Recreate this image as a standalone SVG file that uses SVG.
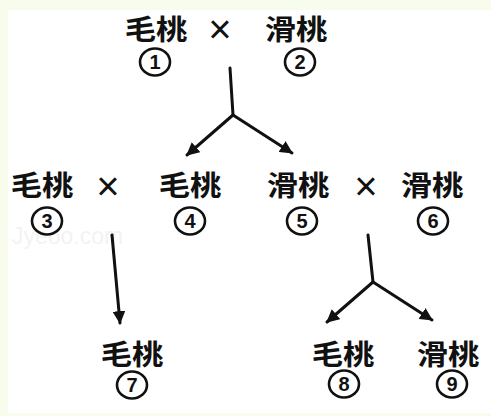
<svg xmlns="http://www.w3.org/2000/svg" width="491" height="416" viewBox="0 0 491 416">
<defs>
<style>
.t{font-family:"Noto Sans CJK SC","Noto Sans CJK JP",sans-serif;font-size:28px;font-weight:700;fill:#111;text-anchor:middle}
.d{font-family:"Liberation Sans",Arial,sans-serif;font-size:20px;font-weight:700;fill:#111;text-anchor:middle}
.x{font-family:"Liberation Sans",Arial,sans-serif;font-size:40px;fill:#111;text-anchor:middle}
.o{fill:none;stroke:#111;stroke-width:2.6}
.wm{font-family:"Liberation Sans",Arial,sans-serif;font-size:23px;fill:#f3f3f3}
.c{stroke:#111;stroke-width:3;fill:none;stroke-linecap:round;stroke-linejoin:round}
.a{marker-end:url(#ah)}
</style>
<marker id="ah" viewBox="0 0 12 12" refX="11" refY="6" markerWidth="13" markerHeight="13" markerUnits="userSpaceOnUse" orient="auto">
<path d="M0,0 L12,6 L0,12 z" fill="#111"/>
</marker>
</defs>
<rect x="0" y="0" width="491" height="416" fill="#ffffff"/>
<rect x="0" y="0" width="491" height="10" fill="#f8fced"/>
<rect x="0" y="0" width="8" height="416" fill="#f8fced"/>
<rect x="0" y="413" width="491" height="3" fill="#f8fced"/>
<text class="wm" x="12" y="244">Jyeoo.com</text>

<g id="node1"><text class="t" transform="translate(156,40) scale(1.12,1)">毛桃</text><ellipse class="o" cx="155" cy="62" rx="15" ry="13.5"/><text class="d" x="155" y="69">1</text></g>
<g id="cross1"><text class="x" x="220" y="43">×</text></g>
<g id="node2"><text class="t" transform="translate(296,40) scale(1.12,1)">滑桃</text><ellipse class="o" cx="300" cy="62" rx="15" ry="13.5"/><text class="d" x="300" y="69">2</text></g>

<g id="node3"><text class="t" transform="translate(42,196) scale(1.12,1)">毛桃</text><ellipse class="o" cx="47" cy="221" rx="15" ry="13.5"/><text class="d" x="47" y="228">3</text></g>
<g id="cross2"><text class="x" x="108" y="200">×</text></g>
<g id="node4"><text class="t" transform="translate(190,196) scale(1.12,1)">毛桃</text><ellipse class="o" cx="190" cy="221" rx="15" ry="13.5"/><text class="d" x="190" y="228">4</text></g>
<g id="node5"><text class="t" transform="translate(298,196) scale(1.12,1)">滑桃</text><ellipse class="o" cx="302" cy="221" rx="15" ry="13.5"/><text class="d" x="302" y="228">5</text></g>
<g id="cross3"><text class="x" x="366" y="200">×</text></g>
<g id="node6"><text class="t" transform="translate(432,196) scale(1.12,1)">滑桃</text><ellipse class="o" cx="433" cy="221" rx="15" ry="13.5"/><text class="d" x="433" y="228">6</text></g>

<g id="node7"><text class="t" transform="translate(132,365) scale(1.12,1)">毛桃</text><ellipse class="o" cx="132" cy="385" rx="15" ry="13.5"/><text class="d" x="132" y="392">7</text></g>
<g id="node8"><text class="t" transform="translate(343,365) scale(1.12,1)">毛桃</text><ellipse class="o" cx="344" cy="384" rx="15" ry="13.5"/><text class="d" x="344" y="391">8</text></g>
<g id="node9"><text class="t" transform="translate(448,365) scale(1.12,1)">滑桃</text><ellipse class="o" cx="452" cy="384" rx="15" ry="13.5"/><text class="d" x="452" y="391">9</text></g>

<g id="connectors">
<path class="c" d="M230,68 L233,115"/>
<path class="c a" d="M233,115 L187,155"/>
<path class="c a" d="M233,115 L292,153"/>
<path class="c a" d="M112,235 L120,323"/>
<path class="c" d="M368,235 L373,282"/>
<path class="c a" d="M373,282 L327,322"/>
<path class="c a" d="M373,282 L432,320"/>
</g>
</svg>
